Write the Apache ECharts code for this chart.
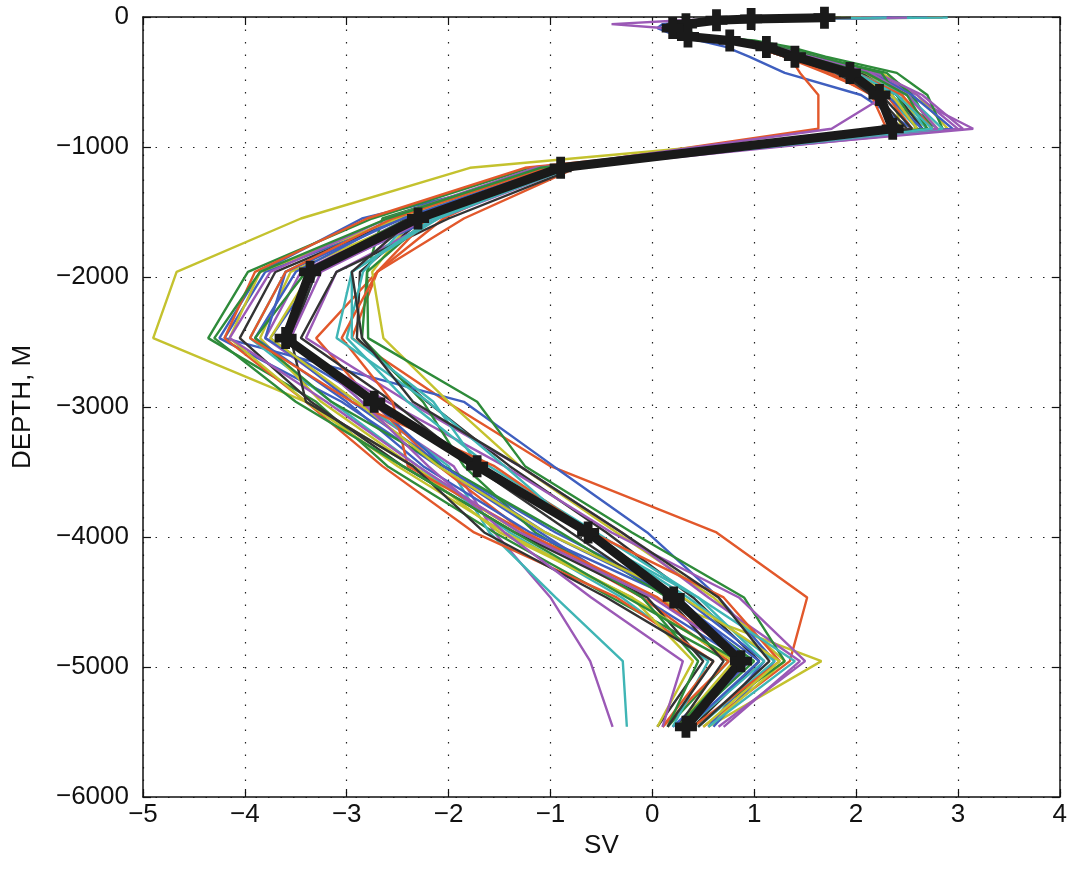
<!DOCTYPE html>
<html>
<head>
<meta charset="utf-8">
<script src="https://cdn.jsdelivr.net/npm/echarts@6/dist/echarts.min.js"></script>
<style>
html,body{margin:0;padding:0;background:#fff;}
#chart{width:1070px;height:870px;}
</style>
</head>
<body>
<div id="chart"></div>
<script>
// Depth levels (m, positive down)
const depths = [5, 15, 25, 55, 85, 150, 180, 230, 305, 430, 600, 860, 1160, 1550, 1960, 2470, 2960, 3455, 3965, 4465, 4955, 5460];

// Tick labels
const xTicks = [-5, -4, -3, -2, -1, 0, 1, 2, 3, 4];
const yTicks = [-6000, -5000, -4000, -3000, -2000, -1000, 0];

// Ensemble member colors
const palette = ['#3f5fbf', '#e2582b', '#c4c22e', '#9b59b6', '#2e8b3a', '#3fb5b5', '#333333'];

// Ensemble members (SV values at each depth level)
const m01 = [2.10, 0.90, 0.45, 0.10, 0.05, 0.25, 0.45, 0.72, 0.95, 1.30, 2.05, 2.55, -0.80, -2.85, -3.85, -4.25, -3.05, -2.10, -1.10, -0.10, 0.90, 0.20];
const m02 = [2.85, 1.10, 0.70, 0.30, 0.20, 0.40, 0.80, 1.10, 1.35, 1.45, 1.63, 1.63, -1.00, -2.05, -2.70, -2.95, -2.02, -1.00, 0.63, 1.52, 1.35, 0.50];
const m03 = [2.20, 1.20, 0.70, 0.30, 0.20, 0.40, 0.85, 1.20, 1.50, 2.10, 2.35, 2.45, -1.79, -3.45, -4.67, -4.90, -3.40, -2.35, -1.30, 0.00, 1.66, 0.55];
const m04 = [1.50, 0.80, 0.30, -0.40, 0.10, 0.35, 0.80, 1.15, 1.45, 2.00, 2.50, 3.15, -1.10, -2.40, -3.45, -3.80, -2.90, -1.95, -1.55, -1.00, -0.61, -0.39];
const m05 = [1.80, 1.00, 0.60, 0.20, 0.15, 0.45, 0.95, 1.30, 1.65, 2.20, 2.55, 2.75, -1.20, -2.75, -3.97, -4.36, -3.30, -2.60, -1.55, -0.40, 0.75, 0.15];
const m06 = [2.55, 1.00, 0.55, 0.20, 0.15, 0.35, 0.70, 1.05, 1.35, 1.85, 2.30, 2.60, -1.00, -2.20, -3.30, -3.55, -2.85, -2.00, -1.60, -0.95, -0.29, -0.25];
const m07 = [1.40, 0.85, 0.50, 0.25, 0.20, 0.30, 0.70, 1.05, 1.35, 1.90, 2.25, 2.40, -0.85, -2.25, -2.87, -2.90, -2.21, -1.40, -0.45, 0.40, 1.05, 0.40];
const m08 = [1.70, 0.95, 0.60, 0.30, 0.25, 0.40, 0.75, 1.10, 1.40, 1.95, 2.40, 2.80, -0.95, -2.45, -3.80, -4.20, -1.85, -0.97, -0.05, 0.65, 1.20, 0.60];
const m09 = [1.20, 0.75, 0.45, 0.20, 0.15, 0.35, 0.70, 1.00, 1.30, 1.75, 2.15, 2.30, -0.75, -1.85, -2.70, -3.30, -2.75, -2.10, -1.25, -0.10, 0.75, 0.10];
const m10 = [1.90, 1.05, 0.65, 0.30, 0.25, 0.45, 0.85, 1.25, 1.60, 2.25, 2.60, 2.90, -0.90, -2.35, -2.75, -2.64, -2.00, -1.30, -0.35, 0.60, 1.30, 0.55];
const m11 = [2.40, 1.15, 0.75, 0.35, 0.25, 0.40, 0.80, 1.20, 1.55, 2.15, 2.60, 3.00, -0.80, -2.10, -3.10, -3.40, -2.40, -1.30, -0.30, 0.55, 1.45, 0.70];
const m12 = [1.60, 0.90, 0.55, 0.25, 0.20, 0.50, 1.00, 1.35, 1.70, 2.40, 2.70, 2.85, -1.05, -2.65, -2.80, -2.79, -1.72, -1.25, -0.20, 0.90, 1.30, 0.40];
const m13 = [2.00, 1.00, 0.60, 0.25, 0.20, 0.40, 0.75, 1.10, 1.40, 2.00, 2.45, 2.70, -1.15, -2.55, -3.60, -3.95, -3.15, -2.30, -1.40, -0.30, 0.55, 0.20];
const m14 = [1.30, 0.80, 0.45, 0.15, 0.10, 0.30, 0.65, 1.00, 1.30, 1.80, 2.20, 2.50, -1.00, -2.45, -3.70, -4.05, -3.35, -2.45, -1.35, -0.05, 0.50, 0.05];
const m15 = [2.35, 1.10, 0.70, 0.30, 0.20, 0.45, 0.85, 1.20, 1.55, 2.10, 2.35, 2.60, -0.85, -2.15, -3.30, -3.75, -2.95, -2.05, -0.95, 0.30, 1.10, 0.55];
const m16 = [1.55, 0.85, 0.50, 0.20, 0.15, 0.35, 0.70, 1.05, 1.35, 1.85, 2.30, 2.55, -1.25, -2.80, -3.90, -4.20, -3.40, -2.65, -1.75, -0.35, 0.60, 0.10];
const m17 = [2.05, 1.05, 0.65, 0.25, 0.20, 0.40, 0.80, 1.15, 1.50, 2.05, 2.45, 2.65, -0.95, -2.35, -3.55, -3.85, -3.25, -2.35, -1.50, -0.20, 0.80, 0.25];
const m18 = [1.75, 0.95, 0.55, 0.20, 0.20, 0.40, 0.75, 1.10, 1.45, 2.00, 2.30, 1.76, -1.05, -2.30, -3.30, -3.65, -2.60, -1.45, -0.40, 0.85, 1.50, 0.65];
const m19 = [2.60, 1.20, 0.75, 0.35, 0.25, 0.50, 0.95, 1.30, 1.60, 2.30, 2.55, 2.75, -0.90, -2.20, -2.80, -2.85, -2.25, -1.85, -1.15, -0.10, 0.45, 0.15];
const m20 = [1.35, 0.80, 0.50, 0.20, 0.15, 0.35, 0.70, 1.05, 1.35, 1.90, 2.35, 2.70, -0.90, -2.35, -2.84, -3.00, -2.40, -1.60, -0.55, 0.45, 1.10, 0.35];
const m21 = [1.85, 1.00, 0.60, 0.25, 0.20, 0.40, 0.75, 1.10, 1.45, 2.05, 2.40, 2.65, -0.75, -2.00, -3.10, -3.45, -2.55, -1.75, -0.80, 0.15, 0.70, 0.25];
const m22 = [2.70, 1.15, 0.70, 0.30, 0.25, 0.45, 0.80, 1.20, 1.50, 2.15, 2.55, 2.95, -1.10, -2.50, -3.50, -3.90, -3.00, -2.25, -1.20, 0.20, 1.05, 0.35];
const m23 = [1.65, 0.90, 0.55, 0.20, 0.15, 0.35, 0.70, 1.00, 1.30, 1.70, 2.20, 2.35, -0.85, -2.20, -2.70, -3.05, -2.55, -2.40, -1.25, 0.05, 0.90, 0.25];
const m24 = [1.45, 0.85, 0.50, 0.20, 0.15, 0.35, 0.75, 1.15, 1.50, 2.10, 2.50, 2.80, -1.00, -2.50, -3.85, -4.15, -3.40, -2.50, -1.45, -0.20, 0.40, 0.05];
const m25 = [2.25, 1.10, 0.65, 0.25, 0.20, 0.40, 0.85, 1.25, 1.60, 2.20, 2.65, 3.05, -1.15, -2.60, -3.75, -4.15, -3.20, -2.30, -1.30, 0.00, 0.95, 0.35];
const m26 = [1.95, 1.05, 0.60, 0.25, 0.20, 0.45, 0.85, 1.25, 1.60, 2.25, 2.40, 2.60, -0.90, -2.40, -3.40, -3.90, -3.15, -2.05, -0.90, 0.15, 1.00, 0.30];
const m27 = [2.90, 1.20, 0.70, 0.30, 0.20, 0.40, 0.80, 1.15, 1.45, 2.00, 2.50, 2.85, -0.85, -2.10, -2.95, -2.95, -2.15, -1.70, -0.65, 0.35, 1.20, 0.45];
const m28 = [1.25, 0.75, 0.45, 0.15, 0.15, 0.35, 0.70, 1.05, 1.35, 1.85, 2.15, 2.45, -0.95, -2.40, -3.30, -3.55, -3.40, -2.35, -1.65, -0.45, 0.60, 0.15];
const m29 = [1.55, 0.85, 0.50, 0.20, 0.15, 0.35, 0.70, 1.05, 1.35, 1.85, 2.30, 2.65, -1.00, -2.45, -3.60, -3.80, -2.75, -2.05, -1.05, 0.25, 0.95, 0.30];
const m30 = [2.15, 1.05, 0.65, 0.25, 0.20, 0.40, 0.80, 1.15, 1.45, 2.00, 2.45, 2.75, -1.05, -2.55, -3.60, -3.95, -2.95, -1.55, -0.60, 0.70, 1.25, 0.40];
const m31 = [1.35, 0.80, 0.50, 0.20, 0.15, 0.35, 0.70, 1.05, 1.40, 1.95, 2.35, 2.60, -0.85, -2.30, -3.35, -3.75, -2.90, -2.10, -1.05, 0.30, 1.25, 0.50];
const m32 = [2.50, 1.15, 0.70, 0.30, 0.20, 0.45, 0.85, 1.20, 1.55, 2.15, 2.50, 2.80, -0.90, -2.20, -3.25, -3.55, -2.85, -2.20, -1.45, -0.60, 0.30, 0.10];
const m33 = [1.70, 0.95, 0.55, 0.25, 0.20, 0.40, 0.80, 1.15, 1.50, 2.10, 2.50, 2.70, -1.10, -2.60, -3.85, -4.30, -3.50, -2.45, -1.35, -0.25, 0.85, 0.25];
const m34 = [2.30, 1.10, 0.65, 0.25, 0.20, 0.40, 0.75, 1.10, 1.45, 2.00, 2.40, 2.75, -0.80, -2.15, -2.95, -3.10, -2.20, -1.45, -0.70, 0.45, 1.40, 0.55];
const m35 = [1.95, 1.00, 0.60, 0.25, 0.20, 0.40, 0.80, 1.10, 1.40, 1.95, 2.25, 2.55, -0.85, -2.35, -2.95, -2.85, -2.35, -1.30, -0.30, 0.65, 1.15, 0.45];

// Ensemble mean (thick black line with + markers)
const meanSV = [1.69, 0.97, 0.63, 0.33, 0.20, 0.35, 0.76, 1.12, 1.40, 1.94, 2.23, 2.36, -0.90, -2.30, -3.36, -3.60, -2.73, -1.72, -0.63, 0.21, 0.87, 0.33];

const members = [m01,m02,m03,m04,m05,m06,m07,m08,m09,m10,m11,m12,m13,m14,m15,m16,m17,m18,m19,m20,m21,m22,m23,m24,m25,m26,m27,m28,m29,m30,m31,m32,m33,m34,m35];

const toPts = vals => depths.map((d, i) => [vals[i], -d]);
const FONT = 'Liberation Sans';
const FS = 26;

const series = members.map((vals, k) => ({
  type: 'line',
  data: toPts(vals),
  showSymbol: false,
  symbol: 'none',
  lineStyle: { color: palette[k % palette.length], width: 2.4 },
  silent: true,
  z: 2
}));
series.push({
  type: 'line',
  data: toPts(meanSV),
  symbol: 'path://M3,0h4v3h3v4h-3v3h-4v-3h-3v-4h3z',
  symbolSize: 22,
  itemStyle: { color: '#1a1a1a' },
  lineStyle: { color: '#1a1a1a', width: 9 },
  silent: true,
  z: 3
});

const gridLine = { show: true, lineStyle: { color: '#222', width: 1.2, type: [1.5, 11] } };
const fmt = v => (v < 0 ? '\u2212' + Math.abs(v) : String(v));

const option = {
  animation: false,
  backgroundColor: '#ffffff',
  grid: { left: 143, right: 10, top: 17, bottom: 73, containLabel: false },
  xAxis: [{
    type: 'value', min: -5, max: 4, interval: 1,
    name: 'SV', nameLocation: 'middle', nameGap: 34,
    nameTextStyle: { fontFamily: FONT, fontSize: FS, color: '#111' },
    axisLine: { show: true, onZero: false, lineStyle: { color: '#111', width: 1.5 } },
    axisTick: { show: true, inside: true, length: 8, lineStyle: { color: '#111', width: 1.2 } },
    axisLabel: { fontFamily: FONT, fontSize: FS, color: '#111', margin: 5, formatter: fmt },
    splitLine: gridLine
  }, {
    type: 'value', min: -5, max: 4, interval: 1, position: 'top',
    axisLine: { show: true, onZero: false, lineStyle: { color: '#111', width: 1.5 } },
    axisTick: { show: true, inside: true, length: 8, lineStyle: { color: '#111', width: 1.2 } },
    axisLabel: { show: false }, splitLine: { show: false }
  }],
  yAxis: [{
    type: 'value', min: -6000, max: 0, interval: 1000,
    name: 'DEPTH, M', nameLocation: 'middle', nameGap: 107, nameRotate: 90,
    nameTextStyle: { fontFamily: FONT, fontSize: FS, color: '#111' },
    axisLine: { show: true, onZero: false, lineStyle: { color: '#111', width: 1.5 } },
    axisTick: { show: true, inside: true, length: 8, lineStyle: { color: '#111', width: 1.2 } },
    axisLabel: { fontFamily: FONT, fontSize: FS, color: '#111', margin: 14, formatter: fmt },
    splitLine: gridLine
  }, {
    type: 'value', min: -6000, max: 0, interval: 1000, position: 'right',
    axisLine: { show: true, onZero: false, lineStyle: { color: '#111', width: 1.5 } },
    axisTick: { show: true, inside: true, length: 8, lineStyle: { color: '#111', width: 1.2 } },
    axisLabel: { show: false }, splitLine: { show: false }
  }],
  series: series
};

const chart = echarts.init(document.getElementById('chart'), null, { renderer: 'canvas' });
chart.setOption(option);
</script>
</body>
</html>
